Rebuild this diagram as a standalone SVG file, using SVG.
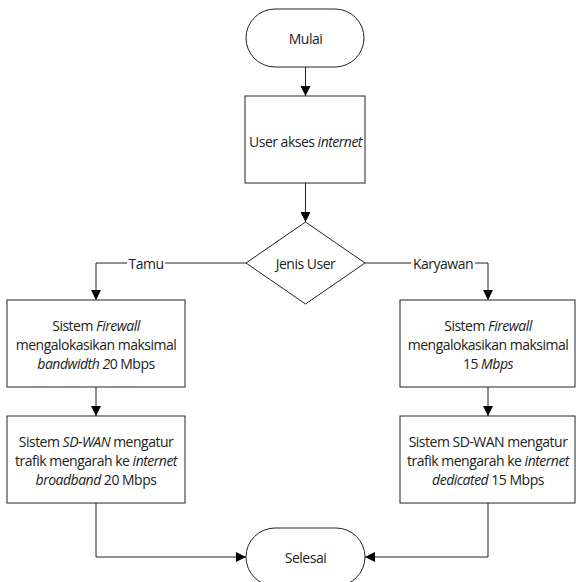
<svg xmlns="http://www.w3.org/2000/svg" width="576" height="582" viewBox="0 0 576 582">
  <defs>
    <marker id="arrow" viewBox="0 0 10 10" refX="10" refY="5" markerWidth="11" markerHeight="10" markerUnits="userSpaceOnUse" orient="auto">
      <path d="M0,0 L10,5 L0,10 Z" fill="#000"/>
    </marker>
    <style>
      .shape { fill: #fff; stroke: #222; stroke-width: 1; }
      .edge { fill: none; stroke: #222; stroke-width: 1; marker-end: url(#arrow); }
      .label { font-family: "Open Sans", "Noto Sans", sans-serif; font-size: 14px; fill: #222; text-anchor: middle; dominant-baseline: central; letter-spacing: -0.5px; }
      .it { font-style: italic; }
      .bg { fill: #fff; }
    </style>
  </defs>
  <rect width="576" height="582" fill="#fff"/>

  <g id="connectors">
    <path class="edge" d="M305.5,67 V96"/>
    <path class="edge" d="M305.5,183 V222"/>
    <path class="edge" d="M246,263 H96 V300"/>
    <path class="edge" d="M365,263 H488 V300"/>
    <path class="edge" d="M96,387 V416"/>
    <path class="edge" d="M488,387 V416"/>
    <path class="edge" d="M96,503 V557 H246"/>
    <path class="edge" d="M488,503 V557 H365"/>
    <rect class="bg" x="127" y="255" width="38" height="16"/>
    <text class="label" x="146" y="263">Tamu</text>
    <rect class="bg" x="411" y="255" width="64" height="16"/>
    <text class="label" x="443" y="263">Karyawan</text>
  </g>

  <g id="mulai">
    <rect class="shape" x="246" y="9" width="118" height="58" rx="29" ry="29"/>
    <text class="label" x="305.5" y="38">Mulai</text>
  </g>

  <g id="akses">
    <rect class="shape" x="245" y="96" width="120" height="87"/>
    <text class="label" x="305.5" y="141">User akses <tspan class="it">internet</tspan></text>
  </g>

  <g id="jenis-user">
    <polygon class="shape" points="305.5,222 365,263 305.5,304 246,263"/>
    <text class="label" x="305.5" y="263">Jenis User</text>
  </g>

  <g id="firewall-tamu">
    <rect class="shape" x="7" y="300" width="178" height="87"/>
    <text class="label" x="96" y="325">Sistem <tspan class="it">Firewall</tspan></text>
    <text class="label" x="96" y="344">mengalokasikan maksimal</text>
    <text class="label" x="96" y="363"><tspan class="it">bandwidth 2</tspan>0 Mbps</text>
  </g>

  <g id="sdwan-tamu">
    <rect class="shape" x="7" y="416" width="178" height="87"/>
    <text class="label" x="96" y="441">Sistem <tspan class="it">SD-WAN</tspan> mengatur</text>
    <text class="label" x="96" y="460">trafik mengarah ke <tspan class="it">internet</tspan></text>
    <text class="label" x="96" y="479"><tspan class="it">broadband</tspan> 20 Mbps</text>
  </g>

  <g id="firewall-karyawan">
    <rect class="shape" x="400" y="300" width="175" height="87"/>
    <text class="label" x="488" y="325">Sistem <tspan class="it">Firewall</tspan></text>
    <text class="label" x="488" y="344">mengalokasikan maksimal</text>
    <text class="label" x="488" y="363">15 <tspan class="it">Mbps</tspan></text>
  </g>

  <g id="sdwan-karyawan">
    <rect class="shape" x="400" y="416" width="175" height="87"/>
    <text class="label" x="488" y="441">Sistem SD-WAN mengatur</text>
    <text class="label" x="488" y="460">trafik mengarah ke <tspan class="it">internet</tspan></text>
    <text class="label" x="488" y="479"><tspan class="it">dedicated</tspan> 15 Mbps</text>
  </g>

  <g id="selesai">
    <rect class="shape" x="246" y="528" width="119" height="58" rx="29" ry="29"/>
    <text class="label" x="305.5" y="557">Selesai</text>
  </g>
</svg>
